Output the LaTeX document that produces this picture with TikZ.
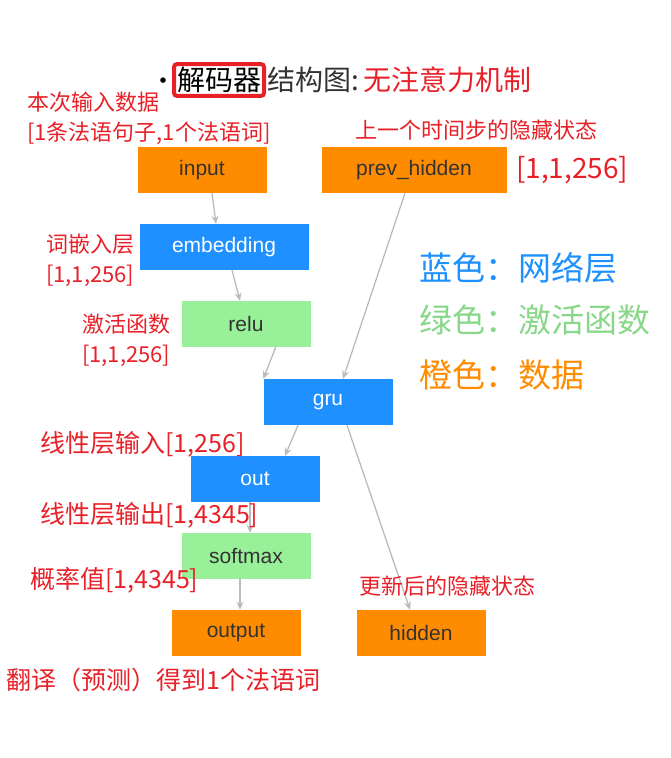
\documentclass[tikz,border=0pt]{standalone}
\usepackage{fontspec}
\setmainfont{Noto Sans CJK SC}
\newfontfamily\nodefont{Liberation Sans}
\usetikzlibrary{arrows.meta}
\definecolor{org}{HTML}{FF8C00}
\definecolor{blu}{HTML}{1E90FF}
\definecolor{grn}{HTML}{98F098}
\definecolor{rd}{HTML}{E82028}
\definecolor{edg}{HTML}{BBBBBB}
\begin{document}
\begin{tikzpicture}[x=1pt,y=-1pt,
  box/.style={minimum width=129pt,minimum height=46pt,inner sep=0pt,font=\nodefont\fontsize{21}{22}\selectfont,text=black!80},
  ob/.style={box,fill=org}, bb/.style={box,fill=blu,text=white}, gb/.style={box,fill=grn},
  ar/.style={draw=edg,line width=1.3pt,-{Stealth[length=8pt,width=7pt]}},
  lab/.style={text=rd,font=\fontsize{22}{30}\selectfont,inner sep=0pt,align=left}]
\useasboundingbox (0,0) rectangle (670,758);
\node[ob] (input) at (202,170) {input};
\node[ob,minimum width=185pt] (prev) at (414,170) {prev\_hidden};
\node[bb,minimum width=169pt] (emb) at (224,247) {embedding};
\node[gb] (relu) at (246,324) {relu};
\node[bb] (gru) at (328,402) {gru};
\node[bb] (out) at (255,479) {out};
\node[gb] (soft) at (246,556) {softmax};
\node[ob] (output) at (236,633) {output};
\node[ob] (hidden) at (421,633) {hidden};
\draw[ar] (input.south -| 212,0) -- (emb.north -| 216,0);
\draw[ar] (emb.south -| 232,0) -- (relu.north -| 240,0);
\draw[ar] (relu.south east) ++(-35,0) -- (gru.north west);
\draw[ar] (prev.south) ++(-9,0) -- ([xshift=15pt]gru.north);
\draw[ar] ([xshift=-30pt]gru.south) -- ([xshift=30pt]out.north);
\draw[ar] ([xshift=19pt]gru.south) -- ([xshift=-11pt]hidden.north);
\draw[ar] (out.south -| 250,0) -- (soft.north -| 250,0);
\draw[ar] (soft.south -| 240,0) -- (output.north -| 240,0);
% title
\node[anchor=west,inner sep=0pt,font=\fontsize{26}{30}\selectfont] (bul) at (150,84) {•};
\node[draw=rd,line width=4pt,rounded corners=3pt,inner sep=3pt,font=\fontsize{28}{32}\selectfont,anchor=west] (dec) at (172,80) {解码器};
\node[anchor=west,inner sep=0pt,font=\fontsize{28}{32}\selectfont,text=black!80] (st) at ([xshift=1pt]dec.east) {结构图:\,\textcolor{rd}{无注意力机制}};
% labels
\node[lab,anchor=north west] (l1) at (27,92) {本次输入数据\\{[1条法语句子,1个法语词]}};
\node[lab,anchor=west] (l2) at (355,130) {上一个时间步的隐藏状态};
\node[lab,anchor=west,font=\fontsize{28}{32}\selectfont] (l3) at (516,170) {[1,1,256]};
\node[lab,anchor=north west] (l4) at (46,234) {词嵌入层\\{[1,1,256]}};
\node[lab,anchor=north west] (l5) at (82,314) {激活函数\\{[1,1,256]}};
\node[lab,anchor=west,font=\fontsize{25}{28}\selectfont] (l6) at (40,444) {线性层输入[1,256]};
\node[lab,anchor=west,font=\fontsize{25}{28}\selectfont] (l7) at (40,515) {线性层输出[1,4345]};
\node[lab,anchor=west,font=\fontsize{25}{28}\selectfont] (l8) at (30,580) {概率值[1,4345]};
\node[lab,anchor=west] (l9) at (359,586) {更新后的隐藏状态};
\node[lab,anchor=west,font=\fontsize{25}{28}\selectfont] (l10) at (6,680) {翻译（预测）得到1个法语词};
% legend
\node[anchor=west,inner sep=0pt,text=blu,font=\fontsize{33}{36}\selectfont] (g1) at (419,268) {蓝色：网络层};
\node[anchor=west,inner sep=0pt,text=grn!90!black,font=\fontsize{33}{36}\selectfont] (g2) at (419,320) {绿色：激活函数};
\node[anchor=west,inner sep=0pt,text=org,font=\fontsize{33}{36}\selectfont] (g3) at (419,375) {橙色：数据};
\end{tikzpicture}
\end{document}
